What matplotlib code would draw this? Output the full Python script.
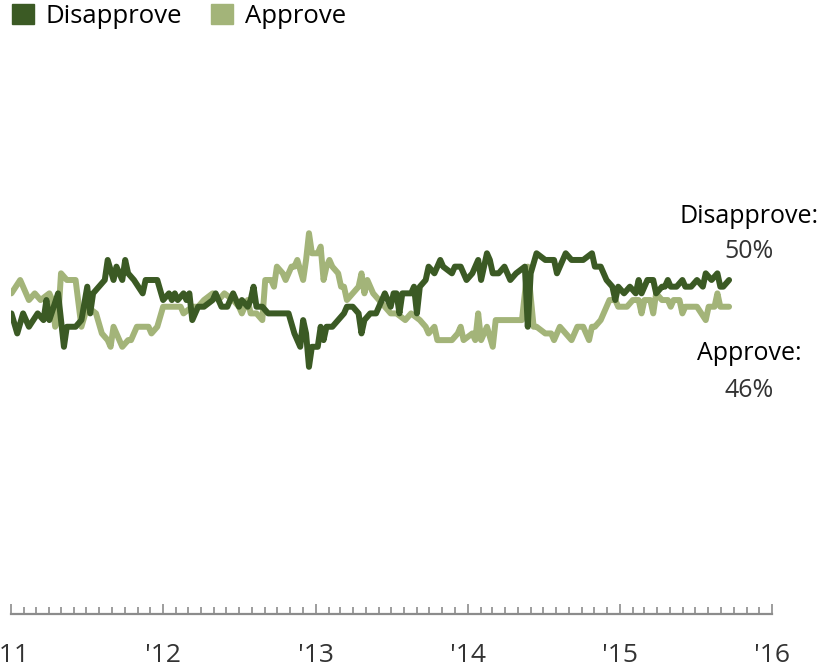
import numpy as np
import pandas as pd
import matplotlib
matplotlib.use("Agg")
import matplotlib.pyplot as plt
import matplotlib.dates as mdates
from matplotlib.patches import Patch

plt.rcParams['font.family'] = ['Open Sans', 'DejaVu Sans']

# weekly readings, week index counted from the first week of 2011
start = pd.Timestamp('2011-01-02')

dis_weeks = [0, 2, 4, 6, 9, 11, 12, 13, 16, 18, 19, 22, 24, 26, 27, 28, 30, 32, 33, 35,
             36, 38, 39, 40, 42, 45, 46, 48, 50, 52, 54, 55, 56, 57, 59, 60, 61, 62, 64, 66,
             69, 70, 72, 74, 76, 78, 79, 81, 82, 83, 84, 86, 88, 90, 91, 94, 95, 97, 99, 100,
             101, 102, 103, 105, 106, 107, 108, 110, 112, 114, 115, 117, 119, 120, 121, 123, 124, 125, 127, 128,
             129, 130, 131, 132, 133, 134, 135, 136, 137, 138, 139, 140, 142, 143, 145, 147, 148, 151, 152, 154,
             155, 156, 158, 160, 161, 163, 164, 165, 167, 169, 171, 173, 176, 177, 178, 180, 183, 185, 186, 187,
             189, 190, 192, 194, 196, 199, 200, 202, 203, 204, 206, 207, 208, 210, 212, 214, 215, 216, 218, 220,
             221, 223, 224, 225, 226, 228, 230, 231, 233, 235, 237, 238, 240, 242, 243, 244, 246]
dis_vals = [45, 42, 45, 43, 45, 44, 47, 44, 48, 40, 43, 43, 44, 49, 45, 48, 49, 50, 53, 50,
            52, 50, 53, 51, 50, 48, 50, 50, 50, 47, 48, 47, 48, 47, 48, 47, 48, 44, 46, 46,
            47, 48, 46, 46, 48, 46, 47, 46, 47, 49, 46, 46, 45, 45, 45, 45, 45, 42, 40, 44,
            42, 37, 40, 40, 43, 41, 43, 43, 44, 45, 46, 46, 45, 42, 44, 45, 45, 45, 47, 48,
            47, 46, 48, 48, 45, 48, 48, 48, 48, 49, 45, 49, 50, 52, 51, 53, 52, 51, 52, 52,
            51, 50, 51, 53, 50, 54, 53, 51, 51, 52, 50, 51, 52, 43, 51, 54, 53, 53, 53, 51,
            53, 54, 53, 53, 53, 54, 52, 52, 51, 50, 49, 47, 49, 48, 49, 48, 50, 48, 50, 50,
            48, 49, 49, 50, 49, 49, 50, 49, 49, 50, 49, 51, 50, 51, 49, 49, 50]

app_weeks = [0, 3, 6, 8, 10, 13, 14, 15, 16, 17, 19, 21, 22, 24, 26, 29, 31, 33, 34, 35,
             37, 38, 40, 41, 43, 46, 47, 48, 50, 52, 54, 56, 58, 59, 62, 64, 66, 69, 71, 73,
             76, 78, 79, 81, 82, 84, 86, 87, 89, 90, 91, 93, 94, 96, 97, 98, 100, 101, 102, 103,
             105, 106, 107, 108, 109, 110, 112, 113, 114, 115, 117, 119, 120, 121, 122, 123, 124, 126, 128, 130,
             132, 135, 137, 140, 142, 143, 145, 146, 148, 151, 153, 154, 155, 158, 159, 160, 161, 163, 165, 166,
             169, 171, 175, 177, 179, 180, 183, 185, 186, 188, 190, 192, 194, 196, 198, 199, 200, 202, 203, 205,
             207, 208, 211, 213, 215, 216, 217, 219, 220, 221, 223, 225, 226, 227, 229, 230, 231, 233, 235, 238,
             239, 240, 241, 242, 243, 245, 246]
app_vals = [48, 50, 47, 48, 47, 48, 47, 43, 44, 51, 50, 50, 50, 43, 46, 45, 42, 41, 40, 43,
            41, 40, 41, 41, 43, 43, 43, 42, 43, 46, 46, 46, 46, 45, 46, 46, 47, 48, 47, 48,
            47, 46, 45, 47, 45, 45, 44, 50, 50, 49, 52, 51, 50, 52, 52, 53, 50, 53, 57, 54,
            54, 55, 50, 52, 53, 52, 51, 49, 49, 47, 48, 49, 51, 48, 50, 49, 48, 47, 46, 45,
            45, 44, 45, 44, 43, 42, 43, 41, 41, 41, 42, 43, 41, 42, 41, 45, 41, 43, 40, 44,
            44, 44, 44, 52, 43, 43, 42, 42, 41, 43, 42, 41, 43, 43, 41, 43, 43, 44, 45, 47,
            47, 46, 46, 47, 47, 45, 47, 47, 45, 48, 47, 47, 46, 47, 47, 45, 46, 46, 46, 44,
            46, 46, 46, 48, 46, 46, 46]

dark = '#3b5a24'
light = '#a3b479'

dis_dates = start + pd.to_timedelta(np.array(dis_weeks) * 7, unit='D')
app_dates = start + pd.to_timedelta(np.array(app_weeks) * 7, unit='D')

fig = plt.figure(figsize=(8.27, 6.70), dpi=100)
ax = fig.add_axes([11 / 827, 56 / 670, 761 / 827, 614 / 670])

line_kw = dict(lw=4.3, solid_capstyle='round', solid_joinstyle='round')
ax.plot(app_dates, app_vals, color=light, **line_kw)
ax.plot(dis_dates, dis_vals, color=dark, **line_kw)

ax.set_xlim(pd.Timestamp('2011-01-01'), pd.Timestamp('2016-01-01'))
ax.set_ylim(0, 614 / 6.68)

ax.xaxis.set_major_locator(mdates.YearLocator())
ax.xaxis.set_minor_locator(mdates.MonthLocator())
ax.xaxis.set_major_formatter(mdates.DateFormatter("'%y"))
ax.tick_params(axis='x', which='major', direction='in', length=7, width=1.2,
               color='#8c8c8c', labelsize=19, labelcolor='#333333', pad=21)
ax.tick_params(axis='x', which='minor', direction='in', length=5, width=1.2, color='#8c8c8c')
ax.set_yticks([])
for s in ['left', 'right', 'top']:
    ax.spines[s].set_visible(False)
ax.spines['bottom'].set_color('#8c8c8c')
ax.spines['bottom'].set_linewidth(1.6)
for lab in ax.get_xticklabels():
    lab.set_clip_on(False)

# end labels
lab_x = dis_dates[-1] + pd.Timedelta(weeks=7)
ax.text(lab_x, dis_vals[-1] + 8.5, 'Disapprove:', ha='center', va='baseline',
        fontsize=18, color='black')
ax.text(lab_x, dis_vals[-1] + 3.3, f'{dis_vals[-1]}%', ha='center', va='baseline',
        fontsize=18, color='#333333')
ax.text(lab_x, app_vals[-1] - 8.0, 'Approve:', ha='center', va='baseline',
        fontsize=18, color='black')
ax.text(lab_x, app_vals[-1] - 13.5, f'{app_vals[-1]}%', ha='center', va='baseline',
        fontsize=18, color='#333333')

handles = [Patch(color=dark, label='Disapprove'), Patch(color=light, label='Approve')]
fig.legend(handles=handles, loc='upper left', bbox_to_anchor=(12 / 827, 1 - 4 / 670),
           ncol=2, frameon=False, fontsize=18.5, handlelength=0.85, handleheight=0.85,
           handletextpad=0.45, columnspacing=1.15, borderpad=0, borderaxespad=0)

fig.savefig('out.png', dpi=100)
